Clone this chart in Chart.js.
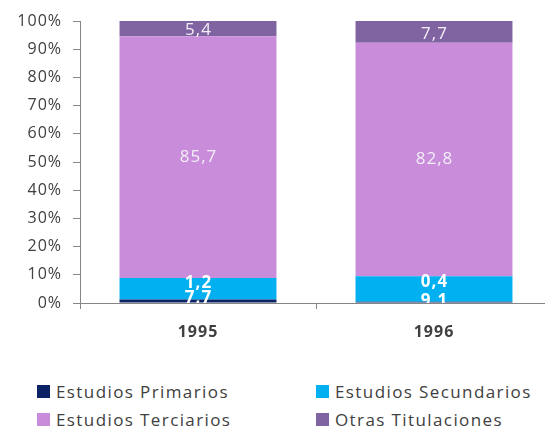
<!DOCTYPE html>
<html>
<head>
<meta charset="utf-8">
<script src="https://cdn.jsdelivr.net/npm/chart.js@4"></script>
<style>
  html, body { margin: 0; padding: 0; background: #fff; overflow: hidden; width: 545px; height: 430px; }
  #wrap { position: absolute; left: 0; top: 0; width: 552px; height: 345px; }
  #legend {
    position: absolute; left: 37px; top: 380px;
    display: grid; grid-template-columns: 279px 230px; row-gap: 6px;
    font-family: "Open Sans", sans-serif; font-size: 17px; letter-spacing: 1.4px; color: #404040;
  }
  .item { display: flex; align-items: center; height: 22px; white-space: nowrap; }
  .box { width: 13px; height: 13px; margin-right: 6px; }
</style>
</head>
<body>
<div id="wrap"><canvas id="chart" width="552" height="345"></canvas></div>
<div id="legend"></div>
<script>
// categorías y series (porcentaje sobre el total)
const years = ['1995', '1996'];
const seriesNames = ['Estudios Primarios', 'Estudios Secundarios', 'Estudios Terciarios', 'Otras Titulaciones'];
const primarios = [1.2, 0.4];
const secundarios = [7.7, 9.1];
const terciarios = [85.7, 82.8];
const otras = [5.4, 7.7];
const yTicks = [0, 10, 20, 30, 40, 50, 60, 70, 80, 90, 100];

const colors = ['#0b2364', '#00b0f0', '#c88cdb', '#8064a2'];

// etiquetas de datos, dibujadas como en la hoja original
const valueLabels = {
    id: 'valueLabels',
    afterDatasetsDraw(chart) {
        const ctx = chart.ctx;
        const area = chart.chartArea;
        ctx.save();
        ctx.beginPath();
        ctx.rect(area.left, area.top, area.right - area.left, area.bottom - area.top);
        ctx.clip();
        ctx.textAlign = 'center';
        ctx.textBaseline = 'middle';
        ctx.letterSpacing = '1px';
        chart.data.datasets.forEach((ds, i) => {
            const meta = chart.getDatasetMeta(i);
            meta.data.forEach((bar, j) => {
                const txt = ds.data[j].toFixed(1).replace('.', ',');
                let y;
                if (i === 0) {
                    // la etiqueta de primarios queda arriba del tramo de secundarios
                    y = chart.getDatasetMeta(1).data[j].y + 5.5;
                    ctx.font = 'bold 17px "Open Sans", sans-serif';
                    ctx.fillStyle = '#ffffff';
                } else if (i === 1) {
                    y = bar.base - 1;
                    ctx.font = 'bold 17px "Open Sans", sans-serif';
                    ctx.fillStyle = '#ffffff';
                } else {
                    y = (bar.y + bar.base) / 2 + (i === 3 ? 2 : 0);
                    ctx.font = '17px "Open Sans", sans-serif';
                    ctx.fillStyle = '#f3eef6';
                }
                ctx.fillText(txt, bar.x + 0.5, y);
            });
        });
        ctx.restore();
    }
};

const spacing = {
    id: 'spacing',
    beforeDraw(chart) { chart.ctx.letterSpacing = '1px'; }
};

const data = {
    labels: years,
    datasets: [primarios, secundarios, terciarios, otras].map((vals, i) => ({
        label: seriesNames[i],
        data: vals,
        backgroundColor: colors[i],
        borderWidth: 0,
        barPercentage: 0.665,
        categoryPercentage: 1
    }))
};

const chart = new Chart(document.getElementById('chart'), {
    type: 'bar',
    data: data,
    options: {
        responsive: false,
        animation: false,
        devicePixelRatio: 1,
        layout: { padding: { top: 21, right: 0, left: 0, bottom: 0 } },
        plugins: { legend: { display: false }, tooltip: { enabled: false } },
        scales: {
            x: {
                stacked: true,
                grid: { drawOnChartArea: false, tickLength: 6, color: '#868686', offset: true },
                border: { color: '#868686' },
                ticks: { color: '#404040', padding: 14, font: { family: 'Open Sans', size: 16, weight: 'bold' } },
                afterFit(scale) { scale.height = 42; }
            },
            y: {
                stacked: true,
                min: 0,
                max: 100,
                afterBuildTicks(scale) { scale.ticks = yTicks.map(v => ({ value: v })); },
                grid: { drawOnChartArea: false, tickLength: 7, color: '#868686' },
                border: { color: '#868686' },
                ticks: { color: '#404040', padding: 11, callback: v => v + '%', font: { family: 'Open Sans', size: 16 } },
                afterFit(scale) { scale.width = 80; }
            }
        }
    },
    plugins: [spacing, valueLabels]
});

// leyenda en dos columnas
const legend = document.getElementById('legend');
seriesNames.forEach((name, i) => {
    legend.innerHTML += `<div class="item"><span class="box" style="background:${colors[i]}"></span>${name}</div>`;
});
</script>
</body>
</html>
